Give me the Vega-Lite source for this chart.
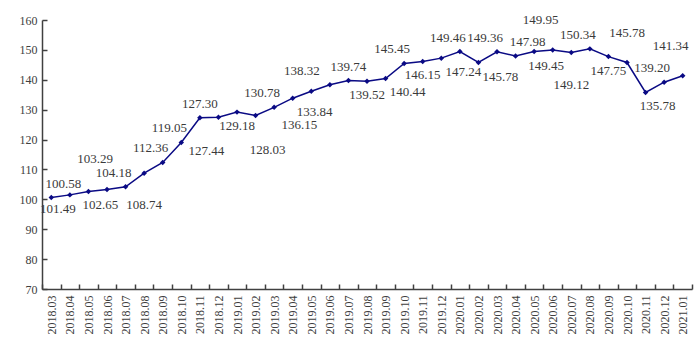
{
  "$schema": "https://vega.github.io/schema/vega-lite/v6.json",
  "width": 650,
  "height": 269,
  "autosize": "none",
  "padding": {"left": 42, "top": 20, "right": 8, "bottom": 66},
  "background": "white",
  "config": {"view": {"stroke": null}, "font": "Liberation Serif",
    "text": {"baseline": "middle", "fontSize": 13, "color": "#3a3a3a", "font": "Liberation Serif"}},
  "data": {"values": [
    {"month": "2018.03", "value": 100.58, "side": "aboveRight"},
    {"month": "2018.04", "value": 101.49, "side": "belowLeft"},
    {"month": "2018.05", "value": 102.65, "side": "belowRight"},
    {"month": "2018.06", "value": 103.29, "side": "highAboveLeft"},
    {"month": "2018.07", "value": 104.18, "side": "aboveLeft"},
    {"month": "2018.08", "value": 108.74, "side": "lowBelow"},
    {"month": "2018.09", "value": 112.36, "side": "aboveLeft"},
    {"month": "2018.10", "value": 119.05, "side": "aboveLeft"},
    {"month": "2018.11", "value": 127.30, "side": "above"},
    {"month": "2018.12", "value": 127.44, "side": "lowBelowLeft"},
    {"month": "2019.01", "value": 129.18, "side": "below"},
    {"month": "2019.02", "value": 128.03, "side": "lowBelowRight"},
    {"month": "2019.03", "value": 130.78, "side": "aboveLeft"},
    {"month": "2019.04", "value": 133.84, "side": "belowFarRight"},
    {"month": "2019.05", "value": 136.15, "side": "lowBelowLeft"},
    {"month": "2019.06", "value": 138.32, "side": "aboveFarLeft"},
    {"month": "2019.07", "value": 139.74, "side": "above"},
    {"month": "2019.08", "value": 139.52, "side": "below"},
    {"month": "2019.09", "value": 140.44, "side": "belowFarRight"},
    {"month": "2019.10", "value": 145.45, "side": "aboveLeft"},
    {"month": "2019.11", "value": 146.15, "side": "below"},
    {"month": "2019.12", "value": 147.24, "side": "belowFarRight"},
    {"month": "2020.01", "value": 149.46, "side": "aboveLeft"},
    {"month": "2020.02", "value": 145.78, "side": "belowFarRight"},
    {"month": "2020.03", "value": 149.36, "side": "aboveLeft"},
    {"month": "2020.04", "value": 147.98, "side": "aboveRight"},
    {"month": "2020.05", "value": 149.45, "side": "belowRight"},
    {"month": "2020.06", "value": 149.95, "side": "highAboveLeft"},
    {"month": "2020.07", "value": 149.12, "side": "lowBelow"},
    {"month": "2020.08", "value": 150.34, "side": "aboveLeft"},
    {"month": "2020.09", "value": 147.75, "side": "below"},
    {"month": "2020.10", "value": 145.78, "side": "highAbove"},
    {"month": "2020.11", "value": 135.78, "side": "belowRight"},
    {"month": "2020.12", "value": 139.20, "side": "aboveLeft"},
    {"month": "2021.01", "value": 141.34, "side": "highAboveLeft"}
  ]},
  "encoding": {
    "x": {
      "field": "month", "type": "ordinal", "sort": null,
      "scale": {"type": "band", "paddingInner": 0, "paddingOuter": 0},
      "axis": {
        "title": null, "labelAngle": -90, "labelAlign": "right", "labelBaseline": "middle",
        "tickBand": "extent", "tickSize": -5, "tickColor": "#404040", "tickWidth": 1.5,
        "domainColor": "#404040", "domainWidth": 1.5,
        "labelFont": "Liberation Serif", "labelFontSize": 12, "labelColor": "#404040", "labelPadding": 11
      }
    },
    "y": {
      "field": "value", "type": "quantitative",
      "scale": {"domain": [70, 160], "nice": false, "zero": false},
      "axis": {
        "title": null, "grid": false, "values": [70, 80, 90, 100, 110, 120, 130, 140, 150, 160],
        "tickSize": -5, "tickColor": "#404040", "tickWidth": 1.5,
        "domainColor": "#404040", "domainWidth": 1.5,
        "labelFont": "Liberation Serif", "labelFontSize": 12, "labelColor": "#404040", "labelPadding": 10
      }
    },
    "text": {"field": "value", "type": "quantitative", "format": ".2f"}
  },
  "layer": [
    {
      "mark": {"type": "line", "color": "#0a0a84", "strokeWidth": 1.5,
        "point": {"shape": "diamond", "size": 30, "filled": true, "color": "#0a0a84"}},
      "encoding": {"text": null}
    },
    {"transform": [{"filter": "datum.side === 'above'"}], "mark": {"type": "text", "dx": 0, "dy": -14}},
    {"transform": [{"filter": "datum.side === 'aboveLeft'"}], "mark": {"type": "text", "dx": -12, "dy": -14}},
    {"transform": [{"filter": "datum.side === 'aboveFarLeft'"}], "mark": {"type": "text", "dx": -28, "dy": -14}},
    {"transform": [{"filter": "datum.side === 'aboveRight'"}], "mark": {"type": "text", "dx": 12, "dy": -14}},
    {"transform": [{"filter": "datum.side === 'highAbove'"}], "mark": {"type": "text", "dx": 0, "dy": -30}},
    {"transform": [{"filter": "datum.side === 'highAboveLeft'"}], "mark": {"type": "text", "dx": -12, "dy": -30}},
    {"transform": [{"filter": "datum.side === 'below'"}], "mark": {"type": "text", "dx": 0, "dy": 14}},
    {"transform": [{"filter": "datum.side === 'belowLeft'"}], "mark": {"type": "text", "dx": -12, "dy": 14}},
    {"transform": [{"filter": "datum.side === 'belowRight'"}], "mark": {"type": "text", "dx": 12, "dy": 14}},
    {"transform": [{"filter": "datum.side === 'belowFarRight'"}], "mark": {"type": "text", "dx": 22, "dy": 14}},
    {"transform": [{"filter": "datum.side === 'lowBelow'"}], "mark": {"type": "text", "dx": 0, "dy": 32}},
    {"transform": [{"filter": "datum.side === 'lowBelowLeft'"}], "mark": {"type": "text", "dx": -12, "dy": 34}},
    {"transform": [{"filter": "datum.side === 'lowBelowRight'"}], "mark": {"type": "text", "dx": 12, "dy": 34}}
  ]
}
